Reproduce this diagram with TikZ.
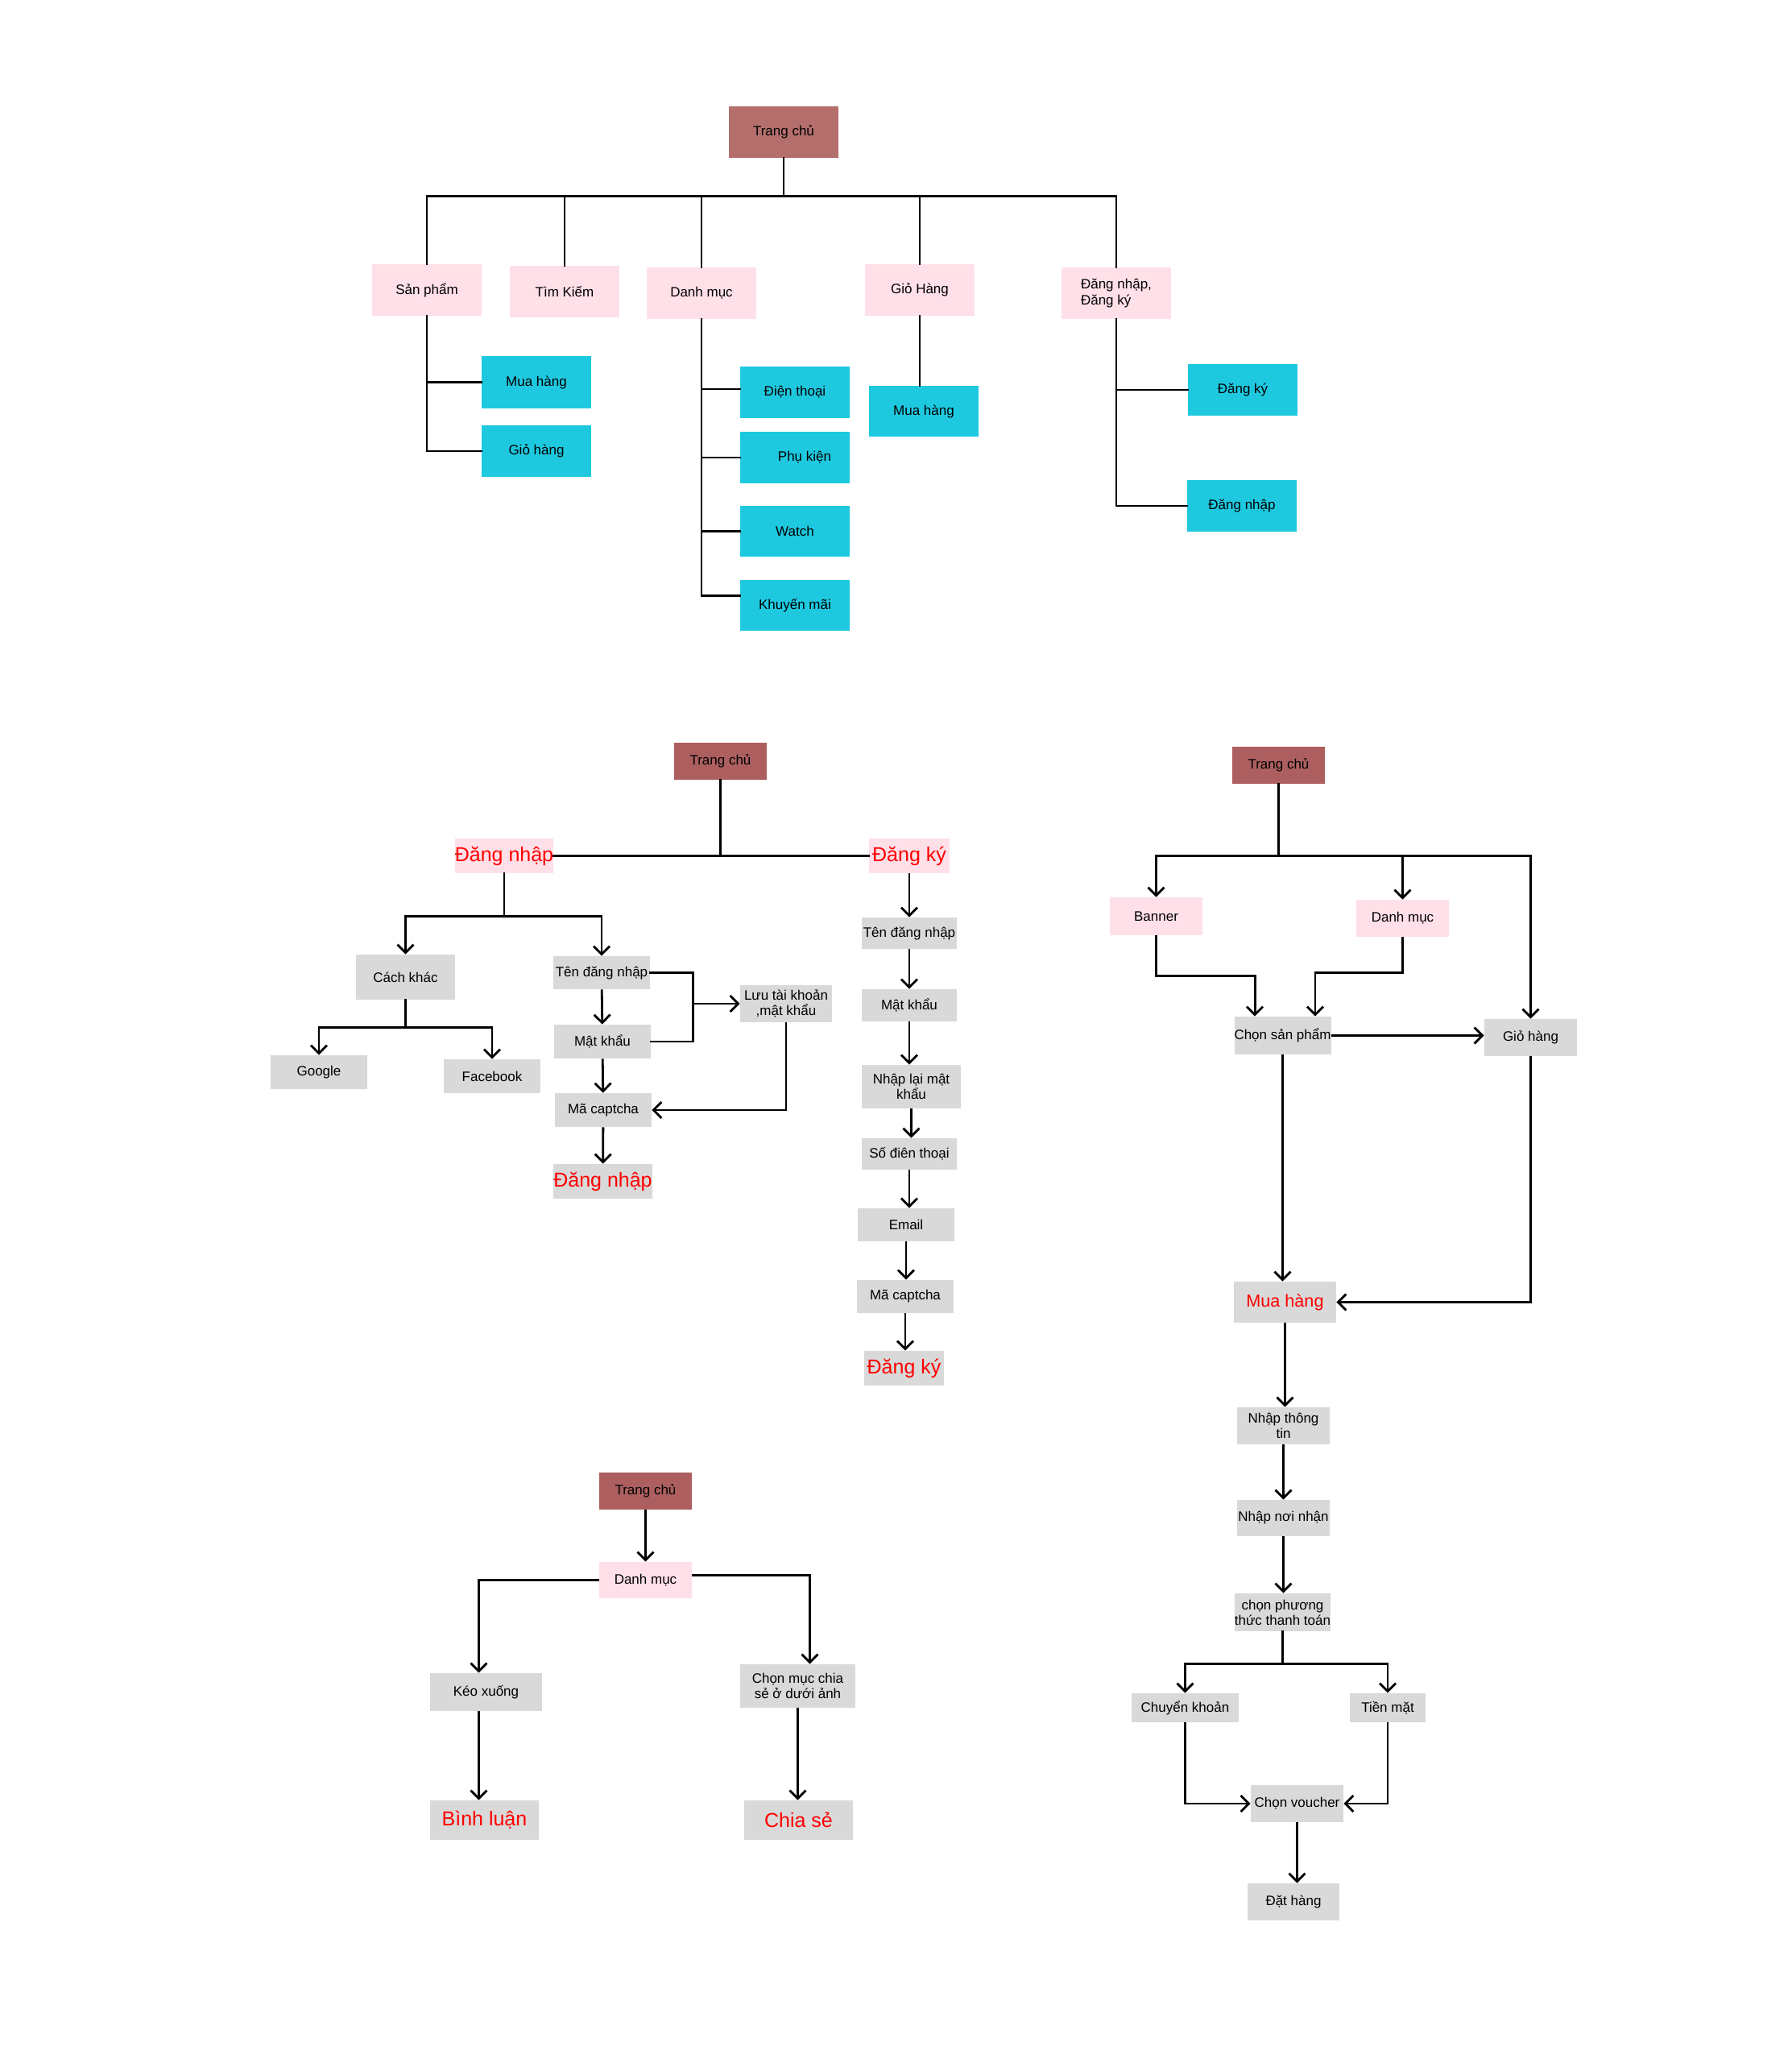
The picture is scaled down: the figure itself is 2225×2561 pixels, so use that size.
\documentclass[tikz,border=0pt]{standalone}
\usepackage{fontspec}
\setmainfont{Liberation Sans}
\usetikzlibrary{arrows.meta,calc}
\definecolor{hdtop}{HTML}{B46F6D}
\definecolor{hdmid}{HTML}{AD5F5F}
\definecolor{pinkc}{HTML}{FFE0E8}
\definecolor{cyanc}{HTML}{1EC9E0}
\definecolor{grayc}{HTML}{D9D9D9}
\definecolor{redc}{HTML}{FF0000}
\newcommand\mkbox[7]{\node[#6, minimum width={(#3-#2)*0.5pt}, minimum height={(#5-#4)*0.5pt}] (#1) at ({(#2+#3)/2},{(#4+#5)/2}) {#7};}
\begin{document}
\begin{tikzpicture}[x=0.5pt,y=-0.5pt,
  base/.style={inner sep=0pt, align=center, font=\fontsize{8.5}{9.6}\selectfont, text=black},
  hdtopbox/.style={base, fill=hdtop},
  hdbox/.style={base, fill=hdmid},
  pkbox/.style={base, fill=pinkc},
  cybox/.style={base, fill=cyanc},
  grbox/.style={base, fill=grayc},
  big/.style={font=\fontsize{12.5}{14}\selectfont, text=redc},
  mid/.style={font=\fontsize{10.8}{12}\selectfont, text=redc},
  ln/.style={line width=1.4pt, line cap=rect},
  arr/.style={line width=1.4pt, -{Straight Barb[length=5pt,width=10pt,line width=1.4pt]}}]
\fill[white] (0,0) rectangle (2225,2561);
\useasboundingbox (0,0) rectangle (2225,2561);

% ---------------- Top tree ----------------
\mkbox{t_home}{905}{1041}{132}{196}{hdtopbox}{Trang chủ}
\mkbox{t_sp}{462}{598}{328}{392}{pkbox}{Sản phẩm}
\mkbox{t_tk}{633}{769}{330}{394}{pkbox}{Tìm Kiếm}
\mkbox{t_dm}{803}{939}{332}{396}{pkbox}{Danh mục}
\mkbox{t_gh}{1074}{1210}{328}{392}{pkbox}{Giỏ Hàng}
\mkbox{t_dn}{1318}{1454}{332}{396}{pkbox,align=left}{Đăng nhập,\\Đăng ký}
\mkbox{t_sp_mh}{598}{734}{442}{507}{cybox}{Mua hàng}
\mkbox{t_sp_gh}{598}{734}{528}{592}{cybox}{Giỏ hàng}
\mkbox{t_dm_dt}{919}{1055}{455}{519}{cybox}{Điện thoại}
\mkbox{t_dm_pk}{919}{1055}{536}{600}{cybox}{\hspace*{12pt}Phụ kiện}
\mkbox{t_dm_w}{919}{1055}{628}{691}{cybox}{Watch}
\mkbox{t_dm_km}{919}{1055}{720}{783}{cybox}{Khuyến mãi}
\mkbox{t_gh_mh}{1079}{1215}{479}{542}{cybox}{Mua hàng}
\mkbox{t_dn_dk}{1475}{1611}{452}{516}{cybox}{Đăng ký}
\mkbox{t_dn_dn}{1474}{1610}{596}{660}{cybox}{Đăng nhập}

\draw[ln] (t_home.south) -- ++(0,47) coordinate (tbus);
\draw[ln] (t_sp.north |- tbus) -- (t_dn.north |- tbus);
\foreach \n in {t_sp,t_tk,t_dm,t_gh,t_dn}{\draw[ln] (\n.north |- tbus) -- (\n.north);}
\draw[ln] (t_sp.south) |- (t_sp_mh.west);
\draw[ln] (t_sp.south) |- (t_sp_gh.west);
\draw[ln] (t_dm.south) |- ($(t_dm_dt.west)+(0,-4)$);
\draw[ln] (t_dm.south) |- (t_dm_pk.west);
\draw[ln] (t_dm.south) |- (t_dm_w.west);
\draw[ln] (t_dm.south) |- ($(t_dm_km.west)+(0,-12)$);
\draw[ln] (t_gh.south) -- (t_gh.south |- t_gh_mh.north);
\draw[ln] (t_dn.south) |- (t_dn_dk.west);
\draw[ln] (t_dn.south) |- (t_dn_dn.west);

% ---------------- Middle tree (login / register) ----------------
\mkbox{m_home}{837}{952}{922}{968}{hdbox}{Trang chủ}
\mkbox{m_dn}{565}{687}{1041}{1084}{pkbox,big}{Đăng nhập}
\mkbox{m_dk}{1079}{1179}{1041}{1084}{pkbox,big}{Đăng ký}
\mkbox{m_ck}{442}{565}{1185}{1241}{grbox}{Cách khác}
\mkbox{m_ten}{687}{807}{1187}{1228}{grbox}{Tên đăng nhập}
\mkbox{m_gg}{336}{456}{1310}{1352}{grbox}{Google}
\mkbox{m_fb}{551}{671}{1315}{1357}{grbox}{Facebook}
\mkbox{m_mk}{688}{808}{1272}{1314}{grbox}{Mật khẩu}
\mkbox{m_cap}{689}{809}{1357}{1399}{grbox}{Mã captcha}
\mkbox{m_dn2}{687}{810}{1445}{1488}{grbox,big}{Đăng nhập}
\mkbox{m_luu}{919}{1033}{1223}{1269}{grbox}{Lưu tài khoản\\,mật khẩu}

\draw[ln] (m_home.south) -- (m_home.south |- m_dn.east);
\draw[ln] (m_dn.east) -- (m_dk.west);
\draw[ln] (m_dn.south) -- ++(0,53) coordinate (mj);
\draw[arr] (mj) -| (m_ck.north);
\draw[arr] (mj) -| (m_ten.north);
\draw[ln] (m_ck.south) -- ++(0,34) coordinate (ckj);
\draw[arr] (ckj) -| (m_gg.north);
\draw[arr] (ckj) -| (m_fb.north);
\draw[arr] (m_ten) -- (m_mk);
\draw[arr] (m_mk) -- (m_cap);
\draw[arr] (m_cap) -- (m_dn2);
\draw[ln] (m_ten.east) -- ++(53,0) coordinate (brt) |- (m_mk.east);
\draw[arr] (brt |- m_luu.west) -- (m_luu.west);
\draw[arr] (m_luu.south) |- (m_cap.east);

\mkbox{r_ten}{1070}{1188}{1139}{1178}{grbox}{Tên đăng nhập}
\mkbox{r_mk}{1070}{1188}{1228}{1268}{grbox}{Mật khẩu}
\mkbox{r_nl}{1070}{1193}{1322}{1376}{grbox}{Nhập lại mật\\khẩu}
\mkbox{r_sdt}{1070}{1188}{1413}{1452}{grbox}{Số điên thoại}
\mkbox{r_em}{1065}{1185}{1500}{1541}{grbox}{Email}
\mkbox{r_cap}{1064}{1184}{1589}{1630}{grbox}{Mã captcha}
\mkbox{r_dk}{1073}{1172}{1677}{1720}{grbox,big}{Đăng ký}
\draw[arr] (m_dk.south) -- (m_dk.south |- r_ten.north);
\draw[arr] (r_ten.south) -- (r_ten.south |- r_mk.north);
\draw[arr] (r_mk.south) -- (r_mk.south |- r_nl.north);
\draw[arr] (r_nl.south) -- (r_nl.south |- r_sdt.north);
\draw[arr] (r_sdt.south) -- (r_sdt.south |- r_em.north);
\draw[arr] (r_em.south) -- (r_em.south |- r_cap.north);
\draw[arr] (r_cap.south) -- (r_cap.south |- r_dk.north);

% ---------------- Right tree (purchase) ----------------
\mkbox{rr_home}{1530}{1645}{927}{973}{hdbox}{Trang chủ}
\mkbox{rr_ban}{1378}{1493}{1114}{1161}{pkbox}{Banner}
\mkbox{rr_dm}{1684}{1799}{1117}{1163}{pkbox}{Danh mục}
\mkbox{rr_gh}{1843}{1958}{1265}{1311}{grbox}{Giỏ hàng}
\mkbox{rr_chon}{1535}{1650}{1262}{1309}{grbox}{Chọn sản phẩm}
\mkbox{rr_mua}{1532}{1659}{1591}{1642}{grbox,mid}{Mua hàng}
\mkbox{rr_ntt}{1536}{1651}{1747}{1793}{grbox}{Nhập thông\\tin}
\mkbox{rr_nnn}{1536}{1651}{1862}{1907}{grbox}{Nhập nơi nhận}
\mkbox{rr_pt}{1535}{1650}{1978}{2025}{grbox}{chọn phương\\thức thanh toán}
\mkbox{rr_ck}{1405}{1538}{2102}{2138}{grbox}{Chuyển khoản}
\mkbox{rr_tm}{1676}{1770}{2102}{2138}{grbox}{Tiền mặt}
\mkbox{rr_v}{1553}{1668}{2216}{2262}{grbox}{Chọn voucher}
\mkbox{rr_dh}{1549}{1663}{2338}{2384}{grbox}{Đặt hàng}

\draw[ln] (rr_home.south) -- ++(0,89) coordinate (rrj);
\draw[ln] (rr_ban.north |- rrj) -- (rr_gh.north |- rrj);
\draw[arr] (rr_ban.north |- rrj) -- (rr_ban.north);
\draw[arr] (rr_dm.north |- rrj) -- (rr_dm.north);
\draw[arr] (rr_gh.north |- rrj) -- (rr_gh.north);
\draw[arr] (rr_ban.south) -- ++(0,50) -| ($(rr_chon.north west)+(26,0)$);
\draw[arr] (rr_dm.south) -- ++(0,44) -| ($(rr_chon.north east)+(-20,0)$);
\draw[arr] (rr_chon.east) -- (rr_chon.east -| rr_gh.west);
\draw[arr] (rr_chon.south) -- (rr_chon.south |- rr_mua.north);
\draw[arr] (rr_gh.south) |- (rr_mua.east);
\draw[arr] (rr_mua.south) -- (rr_mua.south |- rr_ntt.north);
\draw[arr] (rr_ntt.south) -- (rr_ntt.south |- rr_nnn.north);
\draw[arr] (rr_nnn.south) -- (rr_nnn.south |- rr_pt.north);
\draw[ln] (rr_pt.south) -- ++(0,40) coordinate (ptj);
\draw[arr] (ptj) -| (rr_ck.north);
\draw[arr] (ptj) -| (rr_tm.north);
\draw[arr] (rr_ck.south) |- (rr_v.west);
\draw[arr] (rr_tm.south) |- (rr_v.east);
\draw[arr] (rr_v.south) -- (rr_v.south |- rr_dh.north);

% ---------------- Bottom-left tree ----------------
\mkbox{b_home}{744}{859}{1828}{1874}{hdbox}{Trang chủ}
\mkbox{b_dm}{744}{859}{1939}{1984}{pkbox}{Danh mục}
\mkbox{b_keo}{534}{673}{2077}{2124}{grbox}{Kéo xuống}
\mkbox{b_chon}{919}{1062}{2066}{2120}{grbox}{Chọn mục chia\\sẻ ở dưới ảnh}
\mkbox{b_bl}{534}{669}{2235}{2284}{grbox,big}{Bình luận}
\mkbox{b_cs}{924}{1059}{2235}{2284}{grbox,big}{Chia sẻ}

\coordinate (kx) at ($(b_keo.south)+(-9,0)$);
\draw[arr] (b_home) -- (b_dm);
\draw[arr] (b_dm.west) -| ($(b_keo.north)+(-9,0)$);
\draw[arr] ($(b_dm.east)+(0,-6)$) -| ($(b_chon.north)+(15,0)$);
\draw[arr] (kx) -- (kx |- b_bl.north);
\draw[arr] (b_chon.south) -- (b_chon.south |- b_cs.north);
\end{tikzpicture}
\end{document}
